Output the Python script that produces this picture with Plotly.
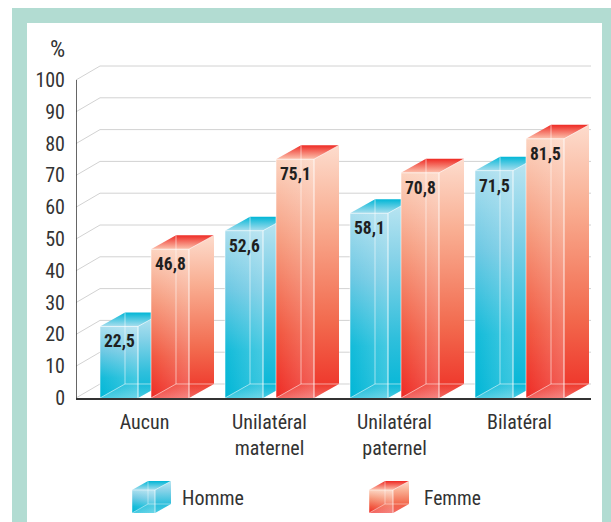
import plotly.graph_objects as go

categories = ["Aucun", "Unilatéral<br>maternel", "Unilatéral<br>paternel", "Bilatéral"]
homme = [22.5, 52.6, 58.1, 71.5]
femme = [46.8, 75.1, 70.8, 81.5]
y_ticks = [0, 10, 20, 30, 40, 50, 60, 70, 80, 90, 100]

FONT = "Roboto Condensed, Roboto, sans-serif"
W, H = 611, 522
L, R, T, B = 76, 591, 80, 398
PX = (B - T) / 100.0  # pixels per percent
Y_MAX = 106           # room above 100 for the back wall
DX, DY = 25, 14 / PX  # depth of the 3D effect
BAR_W, GROUP_STEP, FIRST, FEMME_OFF = 38, 125, 24, 51

PAL = {
    "h": dict(front=[[0, "#00b6d6"], [0.28, "#12bbd9"], [0.65, "#6cc8e3"], [1, "#a9deee"]],
              side=[[0, "#00b6d6"], [0.3, "#2fbfdc"], [0.7, "#86d2e8"], [1, "#bde6f2"]],
              top=[[0, "#a9deee"], [1, "#00b6d6"]], edge="rgba(255,255,255,0.55)"),
    "f": dict(front=[[0, "#ee2a24"], [0.28, "#f1573f"], [0.65, "#f69a7c"], [1, "#fcd3bf"]],
              side=[[0, "#ee2f26"], [0.3, "#f26a4e"], [0.7, "#f9ae92"], [1, "#fddccd"]],
              top=[[0, "#fcc3ae"], [1, "#ee2a24"]], edge="rgba(255,255,255,0.55)"),
}

fig = go.Figure()


def poly(xs, ys, grad=None, kind="vertical", line=None, lw=1, closed=True, axes=("x", "y")):
    if closed:
        xs, ys = xs + xs[:1], ys + ys[:1]
    kw = dict(x=xs, y=ys, mode="lines", hoverinfo="skip", showlegend=False, cliponaxis=False,
              xaxis=axes[0], yaxis=axes[1],
              line=dict(color=line or "rgba(0,0,0,0)", width=lw if line else 0))
    if grad is not None:
        kw["fill"] = "toself"
        kw["fillgradient"] = dict(type=kind, colorscale=grad)
    fig.add_trace(go.Scatter(**kw))


def box(x, base, h, w, dx, dy, key, lw=1, axes=("x", "y")):
    p = PAL[key]
    top = base + h
    k = dict(axes=axes)
    poly([x + w, x + w + dx, x + w + dx, x + w], [base, base + dy, top + dy, top], p["side"], **k)
    poly([x, x + w, x + w + dx, x + dx], [top, top, top + dy, top + dy], p["top"], **k)
    poly([x, x + w, x + w, x], [base, base, top, top], p["front"], **k)
    poly([x, x + w, x + w, x], [base, base, top, top],
         [[0, "rgba(255,255,255,0)"], [1, "rgba(255,255,255,0.22)"]], kind="horizontal", **k)
    poly([x, x + w, x + w + dx, x + dx], [base, base, base + dy, base + dy],
         [[0, "rgba(255,255,255,0.28)"], [1, "rgba(255,255,255,0.0)"]], **k)
    e = p["edge"]
    poly([x + dx, x + dx], [base + dy, top + dy], line=e, closed=False, lw=lw, **k)
    poly([x, x + dx, x + w + dx], [base, base + dy, base + dy], line=e, closed=False, lw=lw, **k)
    poly([x + w, x + w], [base, top], line="rgba(255,255,255,0.85)", closed=False, lw=lw, **k)
    poly([x, x + w, x + w + dx], [top, top, top + dy], line=e, closed=False, lw=lw, **k)
    poly([x, x], [base, top], line=e, closed=False, lw=lw, **k)


# back wall grid
for v in y_ticks:
    poly([0, FIRST, R - L], [v, v + DY, v + DY], line="#d2d2d2", lw=1, closed=False)
# value axis stops at 100
poly([0, 0], [0, 100], line="#333333", lw=1.5, closed=False)

annotations = []
for i in range(len(categories)):
    xh = FIRST + GROUP_STEP * i
    xf = xh + FEMME_OFF
    box(xh, 0, homme[i], BAR_W, DX, DY, "h")
    box(xf, 0, femme[i], BAR_W, DX, DY, "f")
    for x, v in ((xh, homme[i]), (xf, femme[i])):
        annotations.append(dict(x=x + BAR_W / 2, y=v - 15 / PX, text=f"{v:.1f}".replace(".", ","),
                                showarrow=False, xanchor="center", yanchor="middle",
                                font=dict(family=FONT, size=17.5, color="#1f1f1f", weight="bold")))

# legend cubes, on a hidden page-sized pair of axes
page = ("x2", "y2")
box(132, H - 513, 23, 23, 16, 9, "h", lw=0.8, axes=page)
box(369, H - 513, 23, 24, 16, 9, "f", lw=0.8, axes=page)
for x, y, text, anchor, size in ((180, 498, "Homme", "left", 20), (422, 498, "Femme", "left", 19.5),
                                 (57, 49, "%", "center", 24)):
    annotations.append(dict(x=x, y=H - y, xref="x2", yref="y2", text=text, showarrow=False, xanchor=anchor,
                            yanchor="middle", font=dict(family=FONT, size=size, color="#333333")))

shapes = [
    dict(type="rect", xref="paper", yref="paper", x0=12 / W, x1=1, y0=0, y1=1 - 8 / H,
         fillcolor="#b2dcd2", line_width=0, layer="below"),
    dict(type="rect", xref="paper", yref="paper", x0=27 / W, x1=602 / W, y0=0, y1=1 - 23 / H,
         fillcolor="#ffffff", line_width=0, layer="below"),
]

y_top_px = B - Y_MAX * PX
fig.update_layout(
    width=W, height=H, paper_bgcolor="white", plot_bgcolor="rgba(0,0,0,0)",
    margin=dict(l=0, r=0, t=0, b=0, pad=0, autoexpand=False),
    showlegend=False, shapes=shapes, annotations=annotations,
    font=dict(family=FONT, size=20, color="#333333"),
    xaxis=dict(domain=[L / W, R / W], range=[0, R - L], tickmode="array",
               tickvals=[FIRST + 44.5 + GROUP_STEP * i for i in range(len(categories))],
               ticktext=categories, ticks="", ticklabelstandoff=5, showgrid=False, zeroline=False,
               showline=True, linecolor="#333333", linewidth=1.5, automargin=False),
    yaxis=dict(domain=[1 - B / H, 1 - y_top_px / H], range=[0, Y_MAX], tickmode="array",
               tickvals=y_ticks, ticktext=[str(v) for v in y_ticks],
               ticks="", ticklabelstandoff=10, showgrid=False, zeroline=False,
               showline=False, automargin=False),
    xaxis2=dict(domain=[0, 1], range=[0, W], visible=False, anchor="y2"),
    yaxis2=dict(domain=[0, 1], range=[0, H], visible=False, anchor="x2"),
)

fig.write_html("out.html", config=dict(displayModeBar=False),
               post_script="document.body.style.margin='0';document.body.style.overflow='hidden';")
